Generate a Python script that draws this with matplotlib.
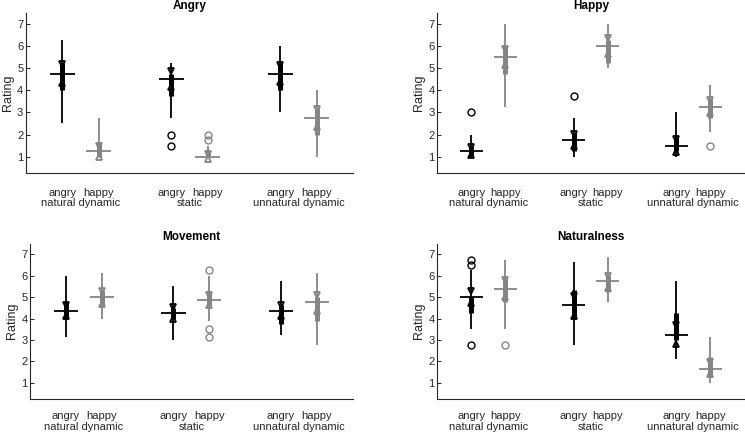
import matplotlib
matplotlib.use('Agg')
import matplotlib.pyplot as plt

plt.rcParams['font.family'] = ['Liberation Sans', 'DejaVu Sans']

# ---------------- data ----------------
positions = [1, 2, 4, 5, 7, 8]
emotions = ['angry', 'happy', 'angry', 'happy', 'angry', 'happy']
group_labels = ['natural dynamic', 'static', 'unnatural dynamic']
group_label_pos = [1.5, 4.5, 7.5]
yticks = [1, 2, 3, 4, 5, 6, 7]
titles = ['Angry', 'Happy', 'Movement', 'Naturalness']

# Angry
angry_med = [4.75, 1.25, 4.5, 1.0, 4.75, 2.75]
angry_q1 = [4.0, 1.0, 3.75, 1.0, 4.0, 2.0]
angry_q3 = [5.25, 1.65, 4.75, 1.2, 5.25, 3.2]
angry_wlo = [2.5, 1.0, 2.75, 1.0, 3.0, 1.0]
angry_whi = [6.25, 2.75, 5.25, 1.5, 6.0, 4.0]
angry_nlo = [4.33, 1.0, 4.15, 0.9, 4.35, 2.35]
angry_nhi = [5.17, 1.5, 4.85, 1.12, 5.15, 3.15]
angry_out = [[], [], [2.0, 1.5], [2.0, 1.75], [], []]

# Happy
happy_med = [1.25, 5.5, 1.75, 6.0, 1.5, 3.25]
happy_q1 = [1.0, 4.75, 1.25, 5.25, 1.25, 2.75]
happy_q3 = [1.5, 6.0, 2.05, 6.25, 1.9, 3.6]
happy_wlo = [1.0, 3.25, 1.0, 5.0, 1.0, 2.1]
happy_whi = [2.0, 7.0, 2.75, 7.0, 3.0, 4.25]
happy_nlo = [1.07, 5.12, 1.48, 5.62, 1.22, 2.95]
happy_nhi = [1.43, 5.88, 2.02, 6.38, 1.78, 3.55]
happy_out = [[3.0], [], [3.75], [], [], [1.5]]

# Movement
move_med = [4.375, 5.0, 4.25, 4.875, 4.375, 4.75]
move_q1 = [4.0, 4.625, 4.0, 4.625, 3.75, 3.875]
move_q3 = [4.75, 5.3, 4.5, 5.2, 4.625, 5.0]
move_wlo = [3.125, 4.0, 3.0, 3.875, 3.25, 2.75]
move_whi = [6.0, 6.125, 5.5, 6.0, 5.75, 6.125]
move_nlo = [4.1, 4.7, 3.98, 4.65, 4.1, 4.37]
move_nhi = [4.65, 5.28, 4.55, 5.12, 4.65, 5.1]
move_out = [[], [], [], [6.25, 3.5, 3.125], [], []]

# Naturalness
nat_med = [5.0, 5.375, 4.625, 5.75, 3.25, 1.625]
nat_q1 = [4.25, 4.75, 4.0, 5.25, 3.0, 1.25]
nat_q3 = [5.0, 5.875, 5.33, 6.0, 4.25, 2.2]
nat_wlo = [3.5, 3.5, 2.75, 4.75, 2.125, 1.0]
nat_whi = [6.25, 6.75, 6.625, 6.875, 5.75, 3.125]
nat_nlo = [4.71, 5.0, 4.13, 5.43, 2.83, 1.39]
nat_nhi = [5.28, 5.78, 5.07, 6.0, 3.71, 1.99]
nat_out = [[6.75, 6.5, 2.75], [2.75], [], [], [], []]

panels = [
    (angry_med, angry_q1, angry_q3, angry_wlo, angry_whi, angry_nlo, angry_nhi, angry_out),
    (happy_med, happy_q1, happy_q3, happy_wlo, happy_whi, happy_nlo, happy_nhi, happy_out),
    (move_med, move_q1, move_q3, move_wlo, move_whi, move_nlo, move_nhi, move_out),
    (nat_med, nat_q1, nat_q3, nat_wlo, nat_whi, nat_nlo, nat_nhi, nat_out),
]

colors = ['black', '#858585'] * 3

# ---------------- layout (pixels) ----------------
W, H = 745, 434
boxes_px = [
    (26, 353, 12.7, 173.3),
    (437.2, 744.4, 12.7, 173.3),
    (30.2, 352.5, 243.7, 398.7),
    (437.2, 744.4, 243.7, 398.7),
]
label_off_px = [(19.4, 30.0), (19.4, 30.0), (17.6, 28.3), (17.6, 28.3)]

fig = plt.figure(figsize=(W / 100, H / 100), dpi=100)
spine_col = '#262626'

for i, (title, data) in enumerate(zip(titles, panels)):
    l, r, t, b = boxes_px[i]
    ax = fig.add_axes([l / W, (H - b) / H, (r - l) / W, (b - t) / H])
    med, q1, q3, wlo, whi, nlo, nhi, outs = data
    for j, x in enumerate(positions):
        c = colors[j]
        ax.vlines(x, wlo[j], whi[j], color=c, lw=1.3, zorder=2)
        ax.vlines(x, q1[j], q3[j], color=c, lw=3.6, zorder=3)
        ax.plot([x], [nhi[j]], marker='v', ms=4.8, mfc='none', mec=c, mew=1.3,
                ls='none', zorder=4)
        ax.plot([x], [nlo[j]], marker='^', ms=4.8, mfc='none', mec=c, mew=1.3,
                ls='none', zorder=4)
        ax.hlines(med[j], x - 0.34, x + 0.34, color=c, lw=1.3, zorder=5)
        if outs[j]:
            ax.plot([x] * len(outs[j]), outs[j], marker='o', ms=5, mfc='none',
                    mec=c, mew=1.0, ls='none', zorder=4)
    ax.set_xlim(0, 9)
    ax.set_ylim(0.25, 7.5)
    ax.set_yticks(yticks)
    ax.set_yticklabels([str(v) for v in yticks])
    ax.tick_params(axis='y', direction='in', length=3, width=0.7, pad=2,
                   labelsize=8, colors=spine_col)
    ax.set_xticks([])
    for s in ['top', 'right']:
        ax.spines[s].set_visible(False)
    for s in ['left', 'bottom']:
        ax.spines[s].set_color(spine_col)
        ax.spines[s].set_linewidth(0.8)
    ax.set_ylabel('Rating', fontsize=9, color=spine_col, labelpad=2)
    ax.set_title(title, fontsize=8.5, fontweight='bold', pad=3)
    off1, off2 = label_off_px[i]
    for x, lab in zip(positions, emotions):
        ax.annotate(lab, xy=(x, 0), xycoords=('data', 'axes fraction'),
                    xytext=(0, -off1 * 0.72), textcoords='offset points',
                    ha='center', va='center', fontsize=8, color=spine_col)
    for x, lab in zip(group_label_pos, group_labels):
        ax.annotate(lab, xy=(x, 0), xycoords=('data', 'axes fraction'),
                    xytext=(0, -off2 * 0.72), textcoords='offset points',
                    ha='center', va='center', fontsize=8, color=spine_col)

fig.savefig('out.png', dpi=100)
